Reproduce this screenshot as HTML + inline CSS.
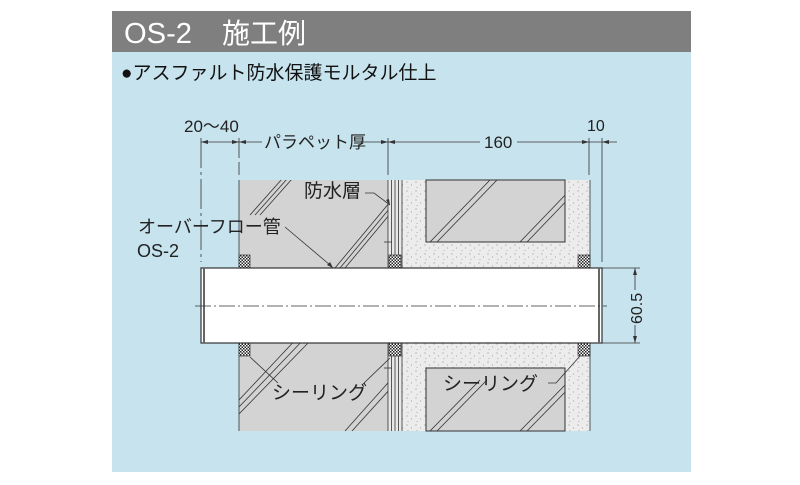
<!DOCTYPE html>
<html><head><meta charset="utf-8"><style>
body{margin:0;background:#fff;width:800px;height:485px;overflow:hidden;font-family:"Liberation Sans","Noto Sans CJK JP",sans-serif}
</style></head><body>
<svg width="800" height="485" viewBox="0 0 800 485" xmlns="http://www.w3.org/2000/svg" style="position:absolute;left:0;top:0">
<defs>
<pattern id="dots" width="9" height="9" patternUnits="userSpaceOnUse">
<rect width="9" height="9" fill="#ececec"/>
<circle cx="2" cy="2" r="0.6" fill="#999"/><circle cx="6.5" cy="5" r="0.6" fill="#aaa"/><circle cx="3" cy="7.5" r="0.5" fill="#999"/>
</pattern>
<pattern id="chk" width="3" height="3" patternUnits="userSpaceOnUse">
<rect width="3" height="3" fill="#fff"/><rect width="1.5" height="1.5" fill="#222"/><rect x="1.5" y="1.5" width="1.5" height="1.5" fill="#222"/>
</pattern>
<clipPath id="cw"><rect x="239" y="180" width="149" height="251"/></clipPath>
<clipPath id="cb1"><rect x="426" y="180" width="139" height="62"/></clipPath>
<clipPath id="cb2"><rect x="426" y="368" width="139" height="63"/></clipPath>
</defs>
<rect x="112" y="11" width="579" height="461" fill="#c7e3ee"/>
<rect x="112" y="11" width="579" height="41" fill="#807f80"/>
<text x="124" y="43" font-size="29" fill="#fff" textLength="68" lengthAdjust="spacingAndGlyphs">OS-2</text>
<text x="222" y="43" font-size="28" fill="#fff">施工例</text>
<text x="121" y="79" font-size="19" fill="#111">●アスファルト防水保護モルタル仕上</text>
<!-- wall -->
<rect x="239" y="180" width="149" height="251" fill="#d3d3d3"/>
<g clip-path="url(#cw)" stroke="#333" stroke-width="0.8">
<line x1="250" y1="215" x2="290" y2="170"/><line x1="255" y1="215" x2="295" y2="170"/><line x1="260" y1="215" x2="300" y2="170"/>
<line x1="335" y1="268" x2="400" y2="190"/><line x1="340" y1="268" x2="405" y2="190"/><line x1="345" y1="268" x2="410" y2="190"/>
<line x1="239" y1="400" x2="300" y2="335"/><line x1="239" y1="407" x2="305" y2="338"/><line x1="239" y1="414" x2="310" y2="341"/>
<line x1="345" y1="431" x2="395" y2="375"/><line x1="352" y1="431" x2="400" y2="378"/>
</g>
<!-- mortar -->
<rect x="402" y="180" width="188" height="251" fill="url(#dots)"/>
<rect x="426" y="180" width="139" height="62" fill="#d3d3d3" stroke="#333" stroke-width="1"/>
<rect x="426" y="368" width="139" height="63" fill="#d3d3d3" stroke="#333" stroke-width="1"/>
<g clip-path="url(#cb1)" stroke="#333" stroke-width="0.8">
<line x1="430" y1="242" x2="490" y2="180"/><line x1="437" y1="242" x2="497" y2="180"/>
<line x1="520" y1="242" x2="570" y2="190"/><line x1="527" y1="242" x2="577" y2="190"/>
</g>
<g clip-path="url(#cb2)" stroke="#333" stroke-width="0.8">
<line x1="430" y1="431" x2="480" y2="380"/><line x1="437" y1="431" x2="487" y2="380"/>
<line x1="520" y1="431" x2="570" y2="380"/><line x1="527" y1="431" x2="577" y2="380"/>
</g>
<!-- waterproof layers -->
<rect x="388" y="180" width="14" height="251" fill="#e8e8e8"/>
<g stroke="#333" stroke-width="0.8">
<line x1="388" y1="180" x2="388" y2="431"/><line x1="391.5" y1="180" x2="391.5" y2="431"/><line x1="395" y1="180" x2="395" y2="431"/><line x1="398.5" y1="180" x2="398.5" y2="431"/><line x1="402" y1="180" x2="402" y2="431"/>
<line x1="239" y1="180" x2="239" y2="431"/><line x1="590" y1="180" x2="590" y2="431"/>
<line x1="384" y1="242" x2="392" y2="242"/><line x1="384" y1="368" x2="392" y2="368"/>
</g>
<!-- sealing -->
<g fill="url(#chk)" stroke="#333" stroke-width="0.7">
<rect x="239" y="255" width="11" height="13"/><rect x="239" y="343" width="11" height="13"/>
<rect x="389" y="255" width="12" height="13"/><rect x="389" y="343" width="12" height="13"/>
<rect x="578" y="255" width="12" height="13"/><rect x="578" y="343" width="12" height="13"/>
</g>
<!-- pipe -->
<rect x="201" y="268" width="401" height="75" fill="#fff" stroke="#333" stroke-width="1.2"/>
<line x1="204" y1="268" x2="204" y2="343" stroke="#666" stroke-width="2"/>
<line x1="599" y1="268" x2="599" y2="343" stroke="#666" stroke-width="2"/>
<line x1="195" y1="306" x2="607" y2="306" stroke="#333" stroke-width="0.8" stroke-dasharray="16,3,2,3"/>
<!-- dims -->
<g stroke="#333" stroke-width="0.8" fill="none">
<line x1="201" y1="138" x2="201" y2="262" stroke-dasharray="30,4,3,4"/>
<line x1="239" y1="138" x2="239" y2="175" stroke-dasharray="20,4"/>
<line x1="388" y1="138" x2="388" y2="175"/>
<line x1="589" y1="138" x2="589" y2="175"/>
<line x1="602" y1="138" x2="602" y2="262"/>
<line x1="201" y1="142" x2="262" y2="142"/><line x1="361" y1="142" x2="480" y2="142"/><line x1="517" y1="142" x2="617" y2="142"/>
<line x1="602" y1="268" x2="640" y2="268"/><line x1="602" y1="343" x2="640" y2="343"/>
<line x1="635" y1="268" x2="635" y2="290"/><line x1="635" y1="325" x2="635" y2="343"/>
<polyline points="285,227 330,265 333,268"/>
<polyline points="365,193 374,193 390,205"/>
<polyline points="250,357 278,383"/>
<polyline points="390,358 362,385"/>
<polyline points="548,383 556,383 580,356"/>
</g>
<g fill="#333">
<path d="M201 142l7-2v4z"/><path d="M239 142l-7-2v4z"/><path d="M239 142l7-2v4z"/><path d="M388 142l-7-2v4z"/><path d="M388 142l7-2v4z"/><path d="M589 142l-7-2v4z"/><path d="M602 142l7-2v4z"/>
<path d="M635 268l-2 7h4z"/><path d="M635 343l-2-7h4z"/>
<path d="M333 268l-6-3 3-3z"/><path d="M390 205l-4-5 3-1z"/>
</g>
<g font-size="17" fill="#222">
<text x="184" y="132">20〜40</text>
<text x="264" y="148">パラペット厚</text>
<text x="484" y="148">160</text>
<text x="587" y="131" font-size="16">10</text>
<text x="304" y="197" font-size="19">防水層</text>
<text x="138" y="233" font-size="18">オーバーフロー管</text>
<text x="137" y="257" font-size="18">OS-2</text>
<text x="272" y="399" font-size="19">シーリング</text>
<text x="443" y="390" font-size="19">シーリング</text>
<text transform="translate(642,324) rotate(-90)" font-size="16">60.5</text>
</g>
</svg>
</body></html>
